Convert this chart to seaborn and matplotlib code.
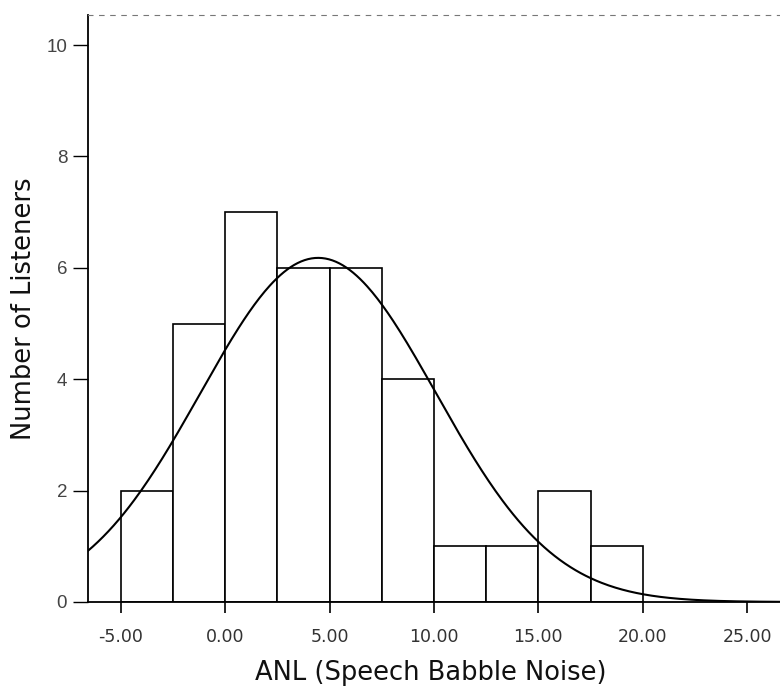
import numpy as np
import pandas as pd
import seaborn as sns
import matplotlib.pyplot as plt

# histogram bins (ANL, dB) and listener counts
bin_edges = [-5.0, -2.5, 0.0, 2.5, 5.0, 7.5, 10.0, 12.5, 15.0, 17.5, 20.0]
counts = [2, 5, 7, 6, 6, 4, 1, 1, 2, 1]

# fitted normal curve
curve_mean = 4.45
curve_sd = 5.65

x_ticks = [-5, 0, 5, 10, 15, 20, 25]
y_ticks = [0, 2, 4, 6, 8, 10]

sns.set_theme(style="ticks")
plt.rcParams['font.family'] = ['DejaVu Sans']

centers = [(a + b) / 2 for a, b in zip(bin_edges[:-1], bin_edges[1:])]
hist_df = pd.DataFrame({'ANL': centers, 'n': counts})

fig = plt.figure(figsize=(7.8, 6.89), dpi=100)
ax = fig.add_axes([0.1128, 0.1263, 0.8872, 0.8520])

sns.histplot(data=hist_df, x='ANL', weights='n', bins=bin_edges, ax=ax,
             color='white', edgecolor='black', linewidth=1.2, alpha=1)

# normal curve scaled to counts
n_total = sum(counts)
bw = bin_edges[1] - bin_edges[0]
xs = np.linspace(-6.6, 26.6, 400)
ys = n_total * bw * np.exp(-0.5 * ((xs - curve_mean) / curve_sd) ** 2) / (curve_sd * np.sqrt(2 * np.pi))
sns.lineplot(x=xs, y=ys, ax=ax, color='black', linewidth=1.5)

ax.set_xlim(-6.58, 26.58)
ax.set_ylim(0, 10.54)
ax.tick_params(axis='x', direction='out', length=8, width=1.2, colors='black',
               labelsize=12.5, labelcolor='#333333', pad=11)
ax.tick_params(axis='y', direction='out', length=11, width=1.0, colors='black',
               labelsize=13.5, labelcolor='#444444', pad=4)
ax.set_xticks(x_ticks)
ax.set_xticklabels([f'{v:.2f}' for v in x_ticks])
ax.set_yticks(y_ticks)
ax.set_yticklabels([str(v) for v in y_ticks])
for lbl in ax.get_yticklabels():
    lbl.set_fontfamily(['Liberation Sans', 'DejaVu Sans'])

ax.spines['right'].set_visible(False)
ax.spines['top'].set_linestyle((0, (4, 6)))
ax.spines['top'].set_color('#777777')
ax.spines['top'].set_linewidth(0.8)
ax.spines['left'].set_linewidth(1.3)
ax.spines['bottom'].set_linewidth(1.3)
ax.spines['left'].set_color('black')
ax.spines['bottom'].set_color('black')

ax.set_xlabel('ANL (Speech Babble Noise)', fontsize=18.5, color='#111111')
ax.set_ylabel('Number of Listeners', fontsize=18.5, color='#111111')
ax.xaxis.label.set_va('center')
ax.yaxis.label.set_va('center')
ax.xaxis.set_label_coords(0.496, -0.121)
ax.yaxis.set_label_coords(-0.0925, 0.5)

fig.savefig('out.png', dpi=100)
